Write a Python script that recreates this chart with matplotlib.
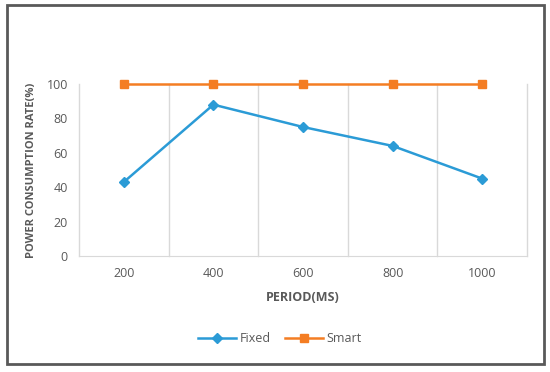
import numpy as np
import matplotlib
matplotlib.use("Agg")
import matplotlib.pyplot as plt
from matplotlib.patches import Rectangle

# ── Data ─────────────────────────────────────────────
periods = ["200", "400", "600", "800", "1000"]
fixed = [43, 88, 75, 64, 45]
smart = [100, 100, 100, 100, 100]

plt.rcParams["font.family"] = ["Open Sans", "DejaVu Sans"]
TXT = "#595959"
GRID = "#D9D9D9"

fig = plt.figure(figsize=(5.5, 3.72), dpi=100)
ax = fig.add_axes([79 / 550, (372 - 256) / 372, (527 - 79) / 550, (256 - 84) / 372])

x = np.arange(len(periods))
ax.plot(x, fixed, color="#2B9BD6", lw=1.8, marker="D", ms=5.5, label="Fixed", zorder=3)
ax.plot(x, smart, color="#F47D23", lw=1.8, marker="s", ms=6, label="Smart", zorder=3,
        clip_on=False)

ax.set_xlim(-0.5, len(periods) - 0.5)
ax.set_ylim(0, 100)
ax.set_yticks(range(0, 101, 20))
ax.set_xticks(x)
ax.set_xticklabels(periods)
# vertical gridlines between categories, including the plot edges
for b in np.arange(-0.5, len(periods), 1.0):
    ax.axvline(b, color=GRID, lw=1, clip_on=False, zorder=1)
ax.tick_params(which="both", length=0)
ax.tick_params(axis="both", labelsize=9, labelcolor=TXT, pad=8)
for s in ["top", "right", "left"]:
    ax.spines[s].set_visible(False)
ax.spines["bottom"].set_color(GRID)

ax.set_xlabel("PERIOD(MS)", fontsize=9, fontweight="bold", color=TXT, labelpad=8)
ax.set_ylabel("POWER CONSUMPTION RATE(%)", fontsize=8, fontweight="bold", color=TXT, labelpad=7)

fig.legend(loc="center", bbox_to_anchor=(280 / 550, 1 - 339 / 372), ncol=2, frameon=False,
           fontsize=9, labelcolor=TXT, handlelength=3, columnspacing=1.2, handletextpad=0.3)

# outer border
fig.patches.append(Rectangle((7 / 550, 1 - 364 / 372), (544 - 7) / 550, (364 - 5) / 372,
                             transform=fig.transFigure, fill=False, edgecolor="#595959", lw=2))

fig.savefig("out.png", dpi=100)
